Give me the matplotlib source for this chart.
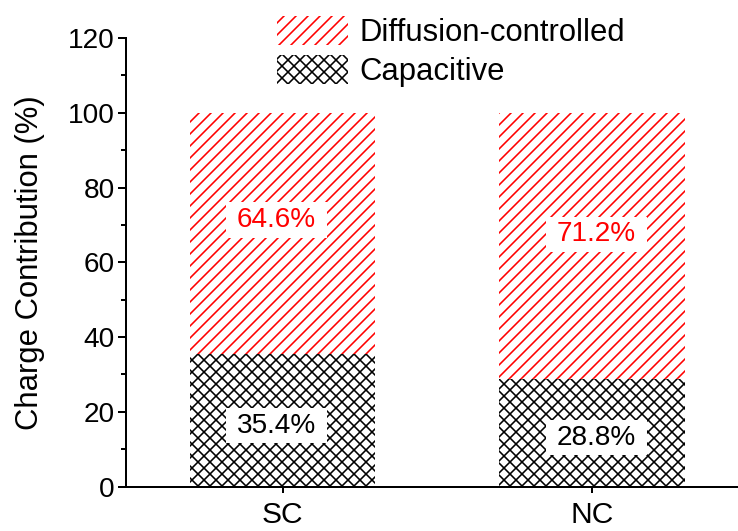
import numpy as np
import matplotlib.pyplot as plt
from matplotlib.ticker import MultipleLocator

# Charge contribution split per electrode (%)
samples = ["SC", "NC"]
capacitive = [35.4, 28.8]
diffusion = [64.6, 71.2]
series_names = ["Diffusion-controlled", "Capacitive"]

# label nudges relative to segment centres (data units)
label_dx = [-0.02, 0.015]
cap_dy = [-1.4, -1.3]
dif_dy = [3.6, 3.1]

plt.rcParams["font.family"] = ["Liberation Sans", "DejaVu Sans"]
plt.rcParams["hatch.linewidth"] = 1.6

fig = plt.figure(figsize=(738 / 72, 531 / 72), dpi=72)
ax = fig.add_axes([0.1707, 0.0838, 0.8293, 0.8446])

x = np.arange(len(samples))
width = 0.6
b_cap = ax.bar(x, capacitive, width, color="white", edgecolor="black",
               hatch="xx", linewidth=0, label=series_names[1])
b_dif = ax.bar(x, diffusion, width, bottom=capacitive, color="white",
               edgecolor="red", hatch="//", linewidth=0, label=series_names[0])

# wide horizontal padding, short vertical padding on the value boxes
box = dict(boxstyle="square,pad=0.4", facecolor="white", edgecolor="none",
           mutation_aspect=0.42)
for i in range(len(samples)):
    ax.text(x[i] + label_dx[i], capacitive[i] / 2 + cap_dy[i], f"{capacitive[i]:.1f}%",
            ha="center", va="center", fontsize=28, color="black", bbox=box)
    ax.text(x[i] + label_dx[i], capacitive[i] + diffusion[i] / 2 + dif_dy[i],
            f"{diffusion[i]:.1f}%", ha="center", va="center", fontsize=28,
            color="red", bbox=box)

ax.set_xlim(-0.506, 1.472)
ax.set_ylim(0, 120)
ax.set_xticks(x)
ax.set_xticklabels(samples)
ax.yaxis.set_major_locator(MultipleLocator(20))
ax.yaxis.set_minor_locator(MultipleLocator(10))
ax.set_ylabel("Charge Contribution (%)", fontsize=31, labelpad=23)

for side in ["top", "right"]:
    ax.spines[side].set_visible(False)
for side in ["left", "bottom"]:
    ax.spines[side].set_linewidth(2)
ax.tick_params(axis="y", which="major", direction="out", length=8, width=2,
               pad=3, labelsize=28)
ax.tick_params(axis="y", which="minor", direction="out", length=5, width=2)
ax.tick_params(axis="x", which="major", direction="out", length=6, width=2,
               pad=8, labelsize=30)

ax.legend(handles=[b_dif, b_cap], loc="upper left",
          bbox_to_anchor=(277 / 738, 1 - 16 / 531), bbox_transform=fig.transFigure,
          frameon=False, fontsize=31, borderpad=0, borderaxespad=0,
          handlelength=2.3, handleheight=1.05, handletextpad=0.35,
          labelspacing=0.24)

fig.savefig("out.png", dpi=72)
